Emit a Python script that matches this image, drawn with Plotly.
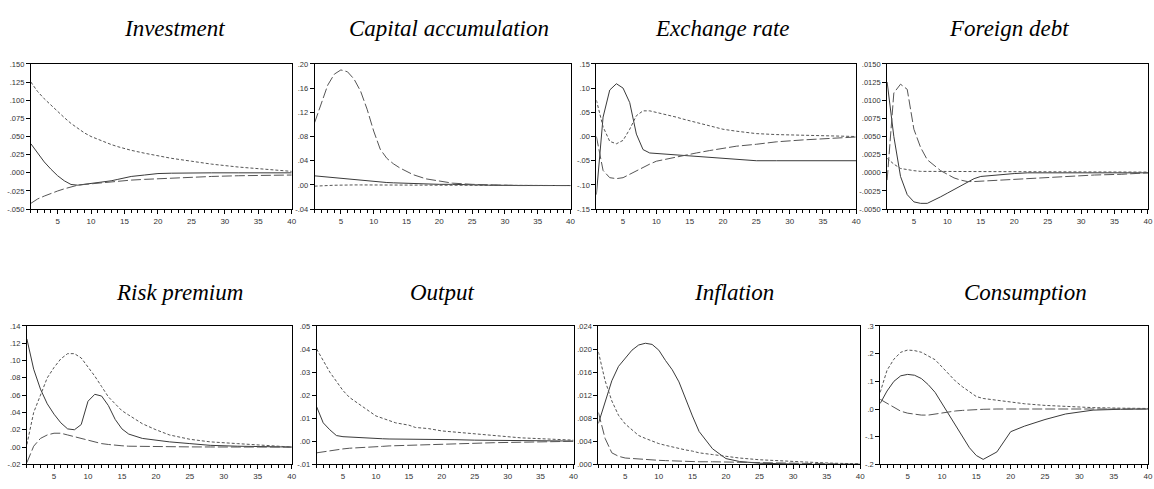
import plotly.graph_objects as go

# common horizon grid (periods)
periods = [1, 2, 3, 4, 5, 6, 7, 8, 9, 10, 11, 12, 13, 14, 15, 16, 18, 20, 22, 25, 28, 32, 36, 40]

titles = ["Investment", "Capital accumulation", "Exchange rate", "Foreign debt",
          "Risk premium", "Output", "Inflation", "Consumption"]

# ---- Investment
inv_solid = [.040, .028, .015, .005, -.004, -.011, -.016, -.017, -.016, -.015, -.014, -.013, -.011, -.009, -.007, -.005, -.003, -.001, -.0005, 0, 0, 0, 0, 0]
inv_short = [.125, .112, .102, .093, .084, .076, .068, .061, .055, .050, .046, .042, .039, .036, .033, .031, .027, .023, .020, .016, .012, .008, .005, .002]
inv_long = [-.042, -.036, -.032, -.028, -.025, -.022, -.019, -.017, -.016, -.015, -.014, -.013, -.0125, -.012, -.011, -.010, -.009, -.008, -.007, -.006, -.005, -.004, -.004, -.003]

# ---- Capital accumulation
cap_solid = [.015, .014, .012, .011, .010, .009, .008, .007, .006, .005, .0045, .004, .0035, .003, .003, .003, .002, .001, .001, 0, -.0005, -.0008, -.001, -.001]
cap_short = [-.002, -.002, -.001, -.0005, 0, 0, 0, 0, 0, 0, 0, 0, 0, 0, 0, 0, 0, 0, 0, 0, -.0005, -.001, -.001, -.001]
cap_long = [.103, .135, .165, .183, .190, .187, .175, .155, .125, .089, .059, .044, .035, .028, .022, .017, .010, .006, .003, .001, 0, -.001, -.001, -.001]

# ---- Exchange rate
exr_solid = [-.120, .040, .096, .109, .100, .070, .005, -.027, -.034, -.035, -.036, -.037, -.038, -.039, -.040, -.041, -.043, -.045, -.047, -.050, -.050, -.050, -.050, -.050]
exr_short = [.075, .020, -.010, -.015, -.008, .015, .043, .053, .053, .050, .047, .043, .040, .036, .032, .029, .022, .015, .011, .006, .004, .003, .001, 0]
exr_long = [0, -.070, -.085, -.087, -.085, -.078, -.070, -.063, -.057, -.051, -.048, -.045, -.042, -.039, -.036, -.034, -.029, -.024, -.020, -.016, -.011, -.007, -.004, -.001]

# ---- Foreign debt
fd_solid = [.0125, .005, -.0005, -.003, -.004, -.0042, -.0042, -.0038, -.0033, -.0028, -.0023, -.0018, -.0013, -.0008, -.0005, -.0004, -.0002, -.0001, 0, 0, 0, 0, 0, 0]
fd_short = [.002, .0012, .0006, .0004, .0003, .0002, .0002, .0001, .0001, .0001, .0001, .0001, .0001, .0001, .0001, .0001, .0001, .0001, .0001, .0001, .0001, .0001, .0001, .0001]
fd_long = [-.001, .011, .0122, .0115, .006, .0035, .0018, .001, .0003, -.0002, -.0007, -.001, -.0012, -.0012, -.0012, -.0011, -.001, -.0009, -.0008, -.0007, -.0005, -.0003, -.0002, 0]

# ---- Risk premium
rp_solid = [.125, .090, .067, .050, .038, .028, .021, .020, .026, .053, .061, .059, .048, .032, .021, .015, .010, .008, .006, .004, .002, .001, .0005, 0]
rp_short = [.003, .040, .060, .080, .092, .102, .108, .108, .103, .093, .082, .070, .058, .050, .042, .037, .027, .020, .014, .009, .006, .004, .002, 0]
rp_long = [-.018, .001, .010, .014, .016, .016, .014, .012, .010, .008, .006, .004, .003, .002, .0015, .001, .0007, .0005, .0003, .0002, .0001, 0, 0, 0]

# ---- Output
out_solid = [.015, .008, .005, .0025, .002, .0018, .0016, .0014, .0013, .0012, .0011, .001, .001, .001, .001, .001, .0009, .0008, .0007, .0005, .0004, .0003, .0002, .0001]
out_short = [.040, .035, .030, .026, .022, .019, .017, .015, .013, .011, .010, .009, .008, .0075, .007, .006, .0055, .0045, .004, .003, .0025, .0015, .001, .0005]
out_long = [-.005, -.0045, -.004, -.0037, -.0033, -.003, -.0029, -.0027, -.0025, -.0024, -.0022, -.002, -.0019, -.0018, -.0017, -.0016, -.0014, -.0012, -.001, -.0008, -.0006, -.0004, -.0002, 0]

# ---- Inflation
inf_solid = [.0071, .011, .0145, .017, .0185, .0198, .0207, .021, .0208, .0198, .0180, .0164, .0143, .0112, .0084, .0057, .0027, .0010, .0005, .0002, .0001, 0, 0, 0]
inf_short = [.0195, .0145, .011, .0085, .007, .006, .005, .0045, .004, .0036, .0033, .003, .0028, .0025, .0023, .002, .0017, .0014, .0011, .0008, .0006, .0004, .0002, .0001]
inf_long = [.009, .0045, .002, .0014, .0011, .001, .0009, .0008, .00075, .0007, .00065, .0006, .00055, .0005, .0005, .00045, .00045, .0004, .00035, .0003, .00025, .00015, .0001, 0]

# ---- Consumption
con_solid = [.020, .065, .100, .120, .125, .122, .110, .088, .060, .020, -.020, -.060, -.100, -.140, -.168, -.182, -.155, -.082, -.062, -.038, -.018, -.004, -.001, 0]
con_short = [.060, .140, .180, .205, .213, .211, .205, .192, .178, .152, .125, .100, .080, .062, .045, .038, .031, .025, .019, .013, .009, .005, .003, .002]
con_long = [.035, .020, .005, -.008, -.015, -.019, -.022, -.022, -.018, -.013, -.010, -.007, -.005, -.003, -.002, -.001, 0, 0, 0, 0, 0, 0, 0, 0]

solid_series = [inv_solid, cap_solid, exr_solid, fd_solid, rp_solid, out_solid, inf_solid, con_solid]
short_series = [inv_short, cap_short, exr_short, fd_short, rp_short, out_short, inf_short, con_short]
long_series = [inv_long, cap_long, exr_long, fd_long, rp_long, out_long, inf_long, con_long]

# y-axis tick values and labels
ytick_vals = [
    [-.05, -.025, 0, .025, .05, .075, .1, .125, .15],
    [-.04, 0, .04, .08, .12, .16, .20],
    [-.15, -.10, -.05, 0, .05, .10, .15],
    [-.005, -.0025, 0, .0025, .005, .0075, .01, .0125, .015],
    [-.02, 0, .02, .04, .06, .08, .10, .12, .14],
    [-.01, 0, .01, .02, .03, .04, .05],
    [0, .004, .008, .012, .016, .020, .024],
    [-.2, -.1, 0, .1, .2, .3],
]
ytick_text = [
    ["-.050", "-.025", ".000", ".025", ".050", ".075", ".100", ".125", ".150"],
    ["-.04", ".00", ".04", ".08", ".12", ".16", ".20"],
    ["-.15", "-.10", "-.05", ".00", ".05", ".10", ".15"],
    ["-.0050", "-.0025", ".0000", ".0025", ".0050", ".0075", ".0100", ".0125", ".0150"],
    ["-.02", ".00", ".02", ".04", ".06", ".08", ".10", ".12", ".14"],
    ["-.01", ".00", ".01", ".02", ".03", ".04", ".05"],
    [".000", ".004", ".008", ".012", ".016", ".020", ".024"],
    ["-.2", "-.1", ".0", ".1", ".2", ".3"],
]
xtick_vals = [5, 10, 15, 20, 25, 30, 35, 40]

W, H = 1154, 489
# plot boxes in pixels: (left, right, top, bottom)
boxes = [
    (31, 293, 61, 209), (316, 573, 61, 209), (599, 860, 61, 209), (891, 1153, 61, 209),
    (27, 293, 328, 469), (318, 576, 328, 469), (601, 864, 328, 469), (884, 1153, 328, 469),
]
title_pos = [(175, 25), (451, 25), (725, 25), (1013, 25), (180, 294), (444, 294), (737, 294), (1030, 294)]

fig = go.Figure()
layout = dict(width=W, height=H, margin=dict(l=0, r=0, t=0, b=0),
              paper_bgcolor="white", plot_bgcolor="white", showlegend=False,
              font=dict(family="Liberation Sans, Arial", size=8, color="#333"))
annotations = []
for i in range(8):
    xa = "x" if i == 0 else f"x{i+1}"
    ya = "y" if i == 0 else f"y{i+1}"
    xk = "xaxis" if i == 0 else f"xaxis{i+1}"
    yk = "yaxis" if i == 0 else f"yaxis{i+1}"
    l, r, t, b = boxes[i]
    styles = [
        (solid_series[i], "solid", "#3a3a3a"),
        (short_series[i], "3px,2px", "#555555"),
        (long_series[i], "10px,3px", "#555555"),
    ]
    for ys, dash, col in styles:
        fig.add_trace(go.Scatter(x=periods, y=ys, mode="lines", xaxis=xa, yaxis=ya,
                                 line=dict(color=col, width=1.0, dash=dash),
                                 hoverinfo="skip"))
    yv = ytick_vals[i]
    layout[xk] = dict(domain=[l / W, r / W], anchor=ya, range=[1, 40],
                      tickmode="array", tickvals=xtick_vals,
                      ticks="outside", ticklen=4, tickcolor="black",
                      minor=dict(tickmode="linear", tick0=0, dtick=1, ticks="outside", ticklen=3, tickcolor="black"),
                      showline=True, linecolor="black", linewidth=1, mirror=True,
                      showgrid=False, zeroline=False, tickfont=dict(size=8), fixedrange=True)
    layout[yk] = dict(domain=[1 - b / H, 1 - t / H], anchor=xa, range=[yv[0], yv[-1]],
                      tickmode="array", tickvals=yv, ticktext=ytick_text[i],
                      ticks="outside", ticklen=4, tickcolor="black",
                      showline=True, linecolor="black", linewidth=1, mirror=True,
                      showgrid=False, zeroline=False, tickfont=dict(size=7.5), fixedrange=True)
    tx, ty = title_pos[i]
    annotations.append(dict(text="<i>" + titles[i] + "</i>", x=tx / W, y=1 - ty / H,
                            xref="paper", yref="paper",
                            xanchor="center", yanchor="middle", showarrow=False,
                            font=dict(family="Liberation Serif, Times New Roman", size=23, color="black")))

layout["annotations"] = annotations
fig.update_layout(**layout)
fig.write_html("out.html", config={"displayModeBar": False},
               post_script="document.body.style.margin='0';document.body.style.overflow='hidden';")
